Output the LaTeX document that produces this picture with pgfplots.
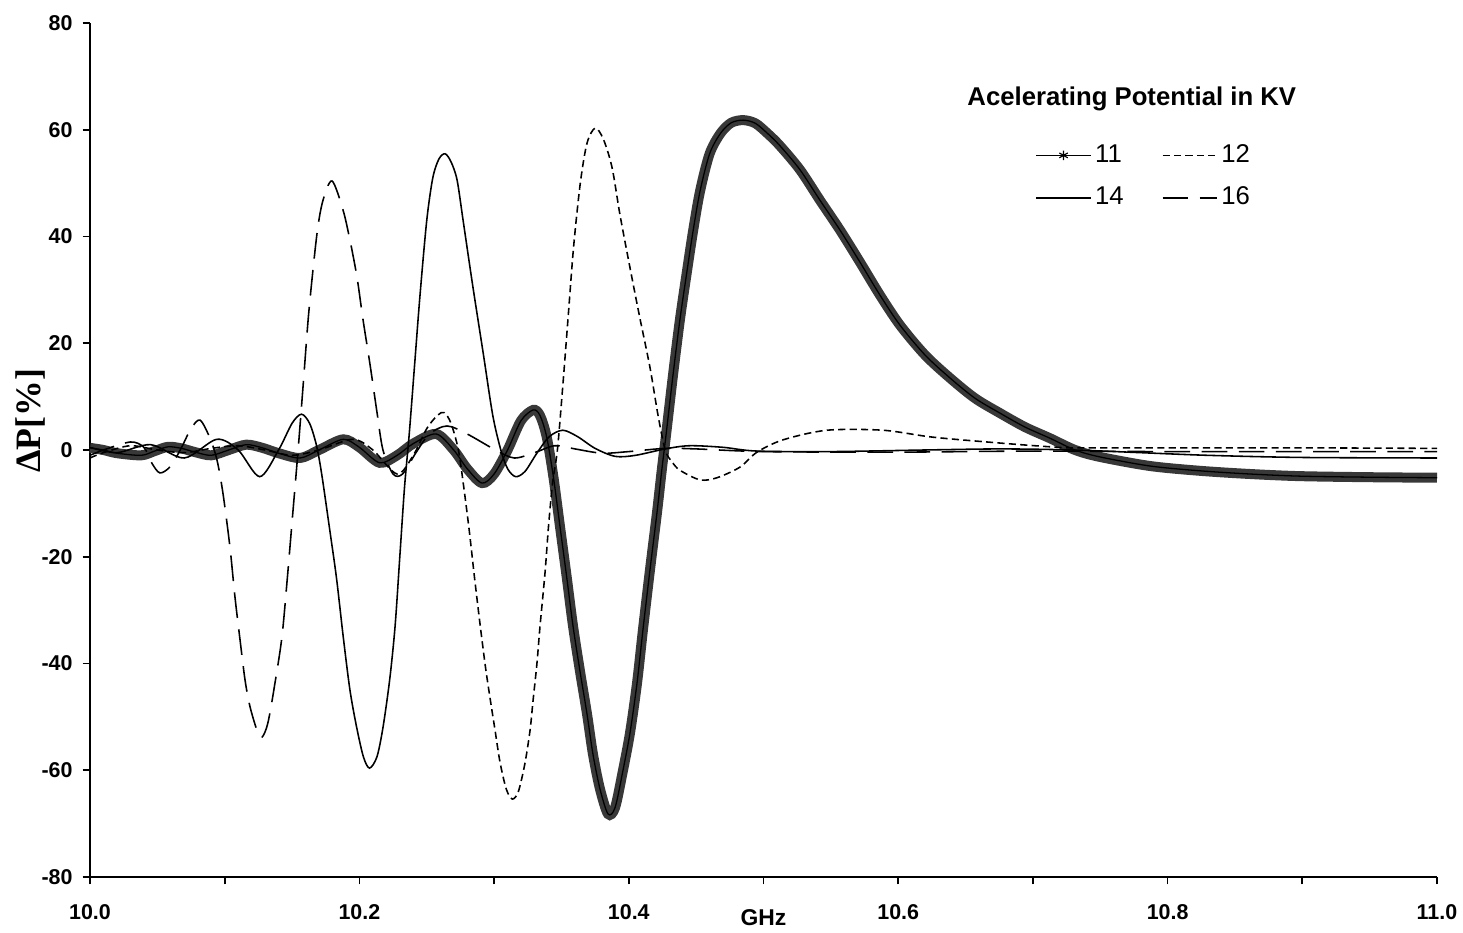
\documentclass[border=0pt]{standalone}
\usepackage{pgfplots}
\usepackage{pgfplotstable}
\pgfplotsset{compat=1.18}
\usepackage{fontspec}
\setmainfont{Liberation Sans}
\newfontfamily\timesb{Liberation Serif}

% Series 11 kV (thick, star marks)
\pgfplotstableread{
f v
10.000 0.4
10.010 0.0
10.020 -0.6
10.038 -1.0
10.048 -0.2
10.058 0.6
10.068 0.3
10.078 -0.4
10.090 -1.0
10.103 0.0
10.116 1.0
10.128 0.4
10.140 -0.6
10.156 -1.5
10.170 0.0
10.188 2.0
10.200 0.5
10.215 -2.4
10.228 -1.0
10.240 1.2
10.257 3.0
10.270 0.0
10.280 -3.5
10.291 -6.2
10.300 -4.5
10.310 0.0
10.320 5.5
10.329 7.5
10.334 6.5
10.339 2.5
10.344 -5.0
10.349 -14.5
10.354 -24.0
10.3586 -33.0
10.3638 -41.5
10.369 -49.5
10.3734 -57.0
10.3786 -63.5
10.3846 -68.2
10.3898 -67.0
10.3957 -60.0
10.4009 -53.0
10.4061 -43.7
10.4105 -33.7
10.4157 -22.5
10.4209 -11.8
10.4246 -3.5
10.4275 2.5
10.4328 14.0
10.438 24.5
10.4432 33.5
10.4477 41.0
10.4529 48.5
10.460 55.5
10.468 59.3
10.476 61.3
10.485 61.8
10.494 61.2
10.503 59.3
10.5122 57.0
10.5271 52.5
10.5419 46.8
10.5568 41.2
10.5716 35.2
10.5865 29.0
10.6013 23.4
10.6199 17.8
10.6384 13.5
10.657 9.7
10.6756 6.9
10.6941 4.3
10.7127 2.2
10.7313 0.0
10.7498 -1.3
10.7869 -3.0
10.824 -3.9
10.8612 -4.5
10.8983 -4.9
10.950 -5.1
11.000 -5.2
}\sEleven

% Series 12 kV (short dashes)
\pgfplotstableread{
f v
10.000 -1.5
10.010 -0.5
10.030 0.8
10.050 0.0
10.070 -0.5
10.090 0.3
10.110 0.8
10.130 0.0
10.150 -1.0
10.170 0.0
10.195 2.0
10.210 0.0
10.228 -4.5
10.240 -1.0
10.250 4.0
10.258 6.5
10.263 7.0
10.268 5.0
10.2735 0.0
10.2775 -7.0
10.2815 -15.0
10.2855 -24.0
10.2895 -32.5
10.2935 -40.5
10.297 -46.5
10.3007 -52.5
10.3044 -58.5
10.309 -63.5
10.3135 -65.4
10.318 -64.0
10.3229 -58.7
10.3267 -52.5
10.3289 -47.0
10.3318 -40.0
10.3341 -33.0
10.3378 -23.0
10.3405 -14.0
10.3435 -6.0
10.347 0.0
10.351 12.0
10.355 25.0
10.359 38.0
10.364 50.0
10.369 57.5
10.375 60.3
10.381 58.3
10.3875 53.0
10.3935 44.0
10.401 34.0
10.408 25.0
10.4157 15.5
10.4217 6.5
10.427 0.0
10.432 -2.2
10.438 -3.8
10.4529 -5.6
10.4655 -5.2
10.4826 -3.2
10.4952 -0.4
10.5145 1.9
10.5471 3.7
10.5887 3.7
10.6258 2.4
10.6756 1.3
10.7127 0.6
10.7313 0.4
10.800 0.4
10.900 0.4
11.000 0.3
}\sTwelve

% Series 14 kV (solid)
\pgfplotstableread{
f v
10.000 0.5
10.020 -0.5
10.045 1.0
10.070 -1.5
10.094 2.0
10.110 0.0
10.126 -5.0
10.140 0.0
10.150 5.0
10.157 6.7
10.163 5.0
10.168 1.0
10.172 -4.5
10.178 -15.0
10.183 -24.0
10.188 -35.0
10.193 -45.0
10.198 -52.0
10.203 -57.5
10.2075 -59.6
10.213 -57.5
10.2175 -52.0
10.2225 -43.0
10.2265 -33.0
10.230 -20.0
10.2335 -7.0
10.237 3.0
10.241 16.0
10.245 29.0
10.250 43.0
10.2545 51.0
10.259 54.5
10.2636 55.5
10.268 54.0
10.2725 50.6
10.277 43.0
10.284 31.0
10.292 18.0
10.299 6.5
10.305 0.0
10.310 -3.5
10.316 -5.0
10.323 -4.0
10.332 -0.5
10.341 2.5
10.351 3.7
10.362 2.5
10.375 0.3
10.390 -1.2
10.405 -1.0
10.427 0.2
10.445 0.8
10.470 0.5
10.495 -0.2
10.550 -0.3
10.620 0.0
10.676 0.2
10.730 0.0
10.780 -0.5
10.830 -1.0
10.900 -1.4
11.000 -1.5
}\sFourteen

% Series 16 kV (long dashes)
\pgfplotstableread{
f v
10.000 -1.0
10.010 0.0
10.030 1.5
10.040 0.5
10.046 -2.5
10.052 -4.3
10.060 -3.0
10.068 0.5
10.075 4.0
10.0817 5.6
10.0891 2.2
10.0943 -1.9
10.0987 -8.1
10.1039 -18.2
10.1076 -27.5
10.1114 -35.6
10.1151 -43.1
10.1188 -48.1
10.124 -52.5
10.1277 -53.8
10.1321 -51.1
10.1373 -43.7
10.1425 -35.0
10.1465 -24.0
10.1505 -12.0
10.1545 0.0
10.1585 13.0
10.1625 26.0
10.1685 40.5
10.173 46.8
10.1797 50.4
10.1878 45.0
10.193 39.3
10.1982 32.4
10.2027 24.4
10.2079 16.0
10.2131 7.0
10.2175 0.0
10.225 -4.5
10.232 -4.5
10.242 -0.5
10.252 3.0
10.265 4.5
10.280 3.0
10.301 0.0
10.315 -1.5
10.330 -0.5
10.345 0.8
10.360 0.2
10.380 -0.6
10.400 -0.3
10.427 0.3
10.450 0.2
10.500 -0.3
10.600 -0.4
10.700 -0.2
10.800 -0.3
11.000 -0.3
}\sSixteen

\begin{document}
\begin{tikzpicture}
\path[use as bounding box] (-31.5pt,-19.6pt) rectangle (480.55pt,306.95pt);
\begin{axis}[
  at={(0pt,0pt)}, anchor=south west,
  scale only axis, width=471.45pt, height=298.9pt,
  xmin=10, xmax=11, ymin=-80, ymax=80,
  axis lines=left,
  axis line style={-, line width=0.7pt, black},
  tick align=outside,
  major tick length=2.6pt, minor tick length=2.6pt,
  tick style={black, line width=0.6pt},
  xtick={10,10.2,10.4,10.6,10.8,11},
  minor xtick={10.1,10.3,10.5,10.7,10.9},
  ytick={-80,-60,-40,-20,0,20,40,60,80},
  /pgf/number format/assume math mode=true,
  ticklabel style={font=\fontsize{7.5}{9}\selectfont\bfseries},
  xticklabel style={yshift=-3.5pt, /pgf/number format/fixed, /pgf/number format/fixed zerofill, /pgf/number format/precision=1},
  xlabel={GHz},
  xlabel style={at={(rel axis cs:0.5,-0.048)}, anchor=center, font=\fontsize{8}{10}\selectfont\bfseries},
  ylabel={ΔP[\%]},
  ylabel style={at={(rel axis cs:-0.0445,0.534)}, anchor=center, font=\fontsize{12.5}{15}\timesb\bfseries},
  clip=false,
  legend columns=2,
  legend cell align=left,
  legend style={at={(rel axis cs:0.7016,0.863)}, anchor=north west, draw=none, fill=none,
    font=\fontsize{9}{11}\selectfont, inner xsep=0pt, inner ysep=0pt,
    nodes={inner sep=1.3pt},
    row sep=4.5pt,
    /tikz/every even column/.append style={column sep=12pt}},
  legend image code/.code={\draw[#1] (0pt,0pt) -- (19pt,0pt);},
]
\addplot[black!78, line width=3.5pt, smooth, forget plot] table[x=f, y=v] {\sEleven};
\addplot[black, line width=0.45pt, smooth,
  legend image code/.code={\draw[black, line width=0.5pt] (0pt,0pt) -- (19pt,0pt);
    \draw[black, line width=0.4pt] plot[mark=asterisk, mark size=1.7pt] coordinates {(9.5pt,0pt)};}]
  table[x=f, y=v] {\sEleven};
\addlegendentry{11}
\addplot[black, line width=0.55pt, smooth, dash pattern=on 2.5pt off 1.5pt] table[x=f, y=v] {\sTwelve};
\addlegendentry{12}
\addplot[black, line width=0.55pt, smooth] table[x=f, y=v] {\sFourteen};
\addlegendentry{14}
\addplot[black, line width=0.55pt, smooth, dash pattern=on 9pt off 4pt] table[x=f, y=v] {\sSixteen};
\addlegendentry{16}
\node[anchor=base west, inner sep=0pt, font=\fontsize{9}{11}\selectfont\bfseries] at (axis cs:10.651,64.45) {Acelerating Potential in KV};
\end{axis}
\end{tikzpicture}
\end{document}
